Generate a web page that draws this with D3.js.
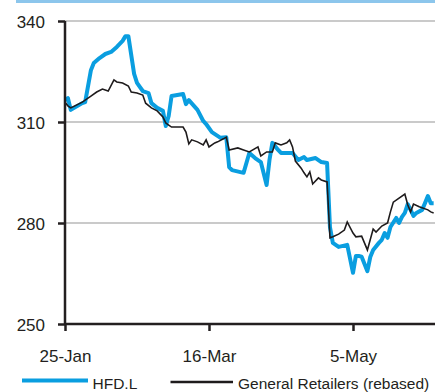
<!DOCTYPE html>
<html>
<head>
<meta charset="utf-8">
<script src="https://cdn.jsdelivr.net/npm/d3@7"></script>
<style>
  html, body { margin: 0; padding: 0; background: #fff; }
  svg { display: block; font-family: "Liberation Sans", Arial, sans-serif; }
</style>
</head>
<body>
<svg id="chart" width="435" height="392"></svg>
<script>
// HFD.L share price vs. the General Retailers sector (rebased)
const hfdDates = [
  "2011-01-25","2011-01-26","2011-01-27","2011-01-31","2011-02-01","2011-02-03","2011-02-04",
  "2011-02-06","2011-02-08","2011-02-10","2011-02-12","2011-02-14","2011-02-15","2011-02-16",
  "2011-02-18","2011-02-19","2011-02-21","2011-02-23","2011-02-24","2011-02-26","2011-02-28",
  "2011-03-01","2011-03-02","2011-03-03","2011-03-07","2011-03-08","2011-03-09","2011-03-12",
  "2011-03-14","2011-03-15","2011-03-17","2011-03-20","2011-03-22","2011-03-23","2011-03-24",
  "2011-03-28","2011-03-30","2011-04-01","2011-04-03","2011-04-05","2011-04-06","2011-04-07",
  "2011-04-09","2011-04-10","2011-04-14","2011-04-16","2011-04-18","2011-04-19","2011-04-22",
  "2011-04-24","2011-04-26","2011-04-27","2011-04-28","2011-04-30","2011-05-03","2011-05-05",
  "2011-05-06","2011-05-07","2011-05-08","2011-05-10","2011-05-11","2011-05-12","2011-05-14",
  "2011-05-15","2011-05-16","2011-05-17","2011-05-18","2011-05-20","2011-05-21","2011-05-22",
  "2011-05-23","2011-05-24","2011-05-25","2011-05-26","2011-05-27","2011-05-29","2011-05-30",
  "2011-05-31","2011-06-01","2011-06-02"
];
const hfdValues = [
  316.5, 317.1, 313.6, 315.6, 315.9, 325.4, 327.5,
  329.0, 330.2, 330.8, 332.3, 334.1, 335.5, 335.5,
  324.3, 321.6, 319.2, 318.6, 315.6, 314.2, 313.3,
  308.8, 311.8, 317.7, 318.3, 315.3, 316.5, 313.6,
  310.3, 309.4, 307.0, 305.3, 305.5, 296.6, 295.7,
  294.9, 300.8, 299.3, 298.1, 291.3, 298.7, 303.8,
  301.7, 300.8, 300.8, 298.7, 299.6, 298.7, 299.3,
  298.1, 297.8, 278.8, 274.1, 272.9, 273.5, 265.2,
  270.2, 270.2, 270.0, 265.7, 269.9, 272.0, 274.1,
  275.0, 277.0, 275.6, 278.8, 281.5, 280.0, 281.8,
  283.0, 285.6, 283.9, 282.1, 283.0, 283.9, 285.9,
  288.0, 285.9, 285.9
];

const retDates = [
  "2011-01-25","2011-01-26","2011-01-27","2011-01-31","2011-02-03","2011-02-05","2011-02-07",
  "2011-02-09","2011-02-11","2011-02-12","2011-02-14","2011-02-16","2011-02-17","2011-02-19",
  "2011-02-21","2011-02-22","2011-02-24","2011-02-26","2011-02-28","2011-03-01","2011-03-02",
  "2011-03-03","2011-03-07","2011-03-08","2011-03-09","2011-03-10","2011-03-12","2011-03-14",
  "2011-03-15","2011-03-16","2011-03-18","2011-03-19","2011-03-21","2011-03-22","2011-03-23",
  "2011-03-26","2011-03-28","2011-03-30","2011-04-02","2011-04-03","2011-04-05","2011-04-07",
  "2011-04-08","2011-04-10","2011-04-12","2011-04-13","2011-04-14","2011-04-15","2011-04-17",
  "2011-04-18","2011-04-19","2011-04-20","2011-04-21","2011-04-23","2011-04-24","2011-04-26",
  "2011-04-27","2011-04-28","2011-04-30","2011-05-02","2011-05-03","2011-05-05","2011-05-06",
  "2011-05-08","2011-05-10","2011-05-12","2011-05-13","2011-05-15","2011-05-17","2011-05-18",
  "2011-05-19","2011-05-21","2011-05-23","2011-05-24","2011-05-25","2011-05-26","2011-05-28",
  "2011-05-31","2011-06-01","2011-06-02"
];
const retValues = [
  315.9, 314.8, 314.2, 315.9, 317.7, 318.9, 319.8,
  319.2, 322.5, 321.9, 321.6, 320.7, 318.9, 318.6,
  318.0, 315.6, 314.2, 313.3, 311.5, 309.7, 309.1,
  308.5, 308.5, 307.0, 303.5, 304.7, 304.1, 303.2,
  304.7, 302.6, 303.8, 304.1, 305.0, 305.5, 301.7,
  302.3, 301.7, 301.1, 302.6, 299.9, 301.1, 301.1,
  303.8, 303.2, 303.8, 304.7, 302.6, 298.4, 296.3,
  294.9, 293.7, 295.2, 291.6, 293.4, 292.8, 292.2,
  275.6, 275.9, 276.7, 277.9, 280.3, 277.0, 275.9,
  276.1, 272.0, 278.2, 277.3, 279.1, 280.0, 283.3,
  286.2, 287.4, 288.6, 285.4, 283.3, 285.6, 284.8,
  283.9, 283.3, 283.0
];

const yTicks = [250, 280, 310, 340];
const xTickDates = ["2011-01-25", "2011-03-16", "2011-05-05"];
const xTickLabels = ["25-Jan", "16-Mar", "5-May"];
const seriesNames = ["HFD.L", "General Retailers (rebased)"];

const W = 435, H = 392;
const plotL = 65, plotR = 435, plotT = 21, plotB = 324;

const parse = d3.utcParse("%Y-%m-%d");
const svg = d3.select("#chart");

const x = d3.scaleUtc()
  .domain([parse(xTickDates[0]), parse(xTickDates[2])])
  .range([plotL, 353]);
const y = d3.scaleLinear().domain([250, 340]).range([plotB, plotT]);

// thin banner rule along the top edge
svg.append("rect").attr("x", 16).attr("y", 0).attr("width", W - 16).attr("height", 3)
  .attr("fill", "#8cc6ec");

// horizontal gridlines
svg.append("g").selectAll("line").data(yTicks.filter(t => t !== 250)).join("line")
  .attr("x1", plotL).attr("x2", plotR)
  .attr("y1", d => y(d)).attr("y2", d => y(d))
  .attr("stroke", "#b8b8b8").attr("stroke-width", 1.5);

// series lines
const hfd = hfdDates.map((d, i) => ({ date: parse(d), value: hfdValues[i] }));
const ret = retDates.map((d, i) => ({ date: parse(d), value: retValues[i] }));
const line = d3.line().x(d => x(d.date)).y(d => y(d.value));

svg.append("path").datum(hfd).attr("d", line)
  .attr("fill", "none").attr("stroke", "#0a9ee0").attr("stroke-width", 4)
  .attr("stroke-linejoin", "round");
svg.append("path").datum(ret).attr("d", line)
  .attr("fill", "none").attr("stroke", "#1e1b1c").attr("stroke-width", 1.6)
  .attr("stroke-linejoin", "miter");

// y axis
const yAxis = svg.append("g").attr("transform", `translate(${plotL},0)`)
  .call(d3.axisLeft(y).tickValues(yTicks).tickSize(7).tickPadding(13).tickFormat(d3.format("d")));
yAxis.select(".domain").attr("stroke", "#231f20").attr("stroke-width", 2.5)
  .attr("d", `M0,${plotT}V${plotB}`);
yAxis.selectAll(".tick line").attr("stroke", "#231f20").attr("stroke-width", 2.5);
yAxis.selectAll(".tick text").attr("fill", "#231f20").style("font-size", "17px")
  .attr("dy", "0.36em");

// x axis
const xAxis = svg.append("g").attr("transform", `translate(0,${plotB})`)
  .call(d3.axisBottom(x).tickValues(xTickDates.map(parse)).tickSize(7).tickPadding(19)
    .tickFormat((d, i) => xTickLabels[i]));
xAxis.select(".domain").attr("stroke", "#231f20").attr("stroke-width", 2.5)
  .attr("d", `M${plotL},0H${plotR}`);
xAxis.selectAll(".tick line").attr("stroke", "#231f20").attr("stroke-width", 2.5);
xAxis.selectAll(".tick text").attr("fill", "#231f20").style("font-size", "17px")
  .attr("dy", "0.71em");

// legend
const legend = svg.append("g");
legend.append("line").attr("x1", 22).attr("x2", 88).attr("y1", 380.5).attr("y2", 380.5)
  .attr("stroke", "#0a9ee0").attr("stroke-width", 4);
legend.append("text").attr("x", 92.5).attr("y", 389).text(seriesNames[0])
  .attr("fill", "#231f20").style("font-size", "15.5px");
legend.append("line").attr("x1", 170.5).attr("x2", 233).attr("y1", 382).attr("y2", 382)
  .attr("stroke", "#1e1b1c").attr("stroke-width", 2.5);
legend.append("text").attr("x", 238).attr("y", 389).text(seriesNames[1])
  .attr("fill", "#231f20").style("font-size", "15.5px");
</script>
</body>
</html>
